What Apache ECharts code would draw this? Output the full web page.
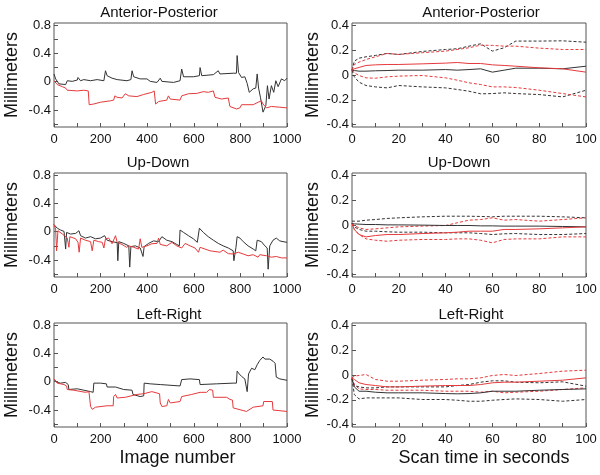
<!DOCTYPE html>
<html><head><meta charset="utf-8">
<script src="https://cdn.jsdelivr.net/npm/echarts@6/dist/echarts.min.js"></script>
<style>html,body{margin:0;padding:0;background:#fff}#c{width:600px;height:475px}</style>
</head><body><div id="c"></div>
<script>
// ---------- data ----------
const panelTitles = ['Anterior-Posterior', 'Up-Down', 'Left-Right'];
const imageTicks = [0,100,200,300,400,500,600,700,800,900,1000];
const imageLabels = [0,200,400,600,800,1000];
const leftMmTicks = [-0.6,-0.4,-0.2,0,0.2,0.4,0.6,0.8];
const leftMmLabels = [-0.4,0,0.4,0.8];
const timeTicks = [0,10,20,30,40,50,60,70,80,90,100];
const timeLabels = [0,20,40,60,80,100];
const rightMmLabels = [-0.4,-0.2,0,0.2,0.4];

// left column: [image number, mm]
const apBlack = [[0,0.11],[7,0.04],[21,-0.03],[50,-0.04],[57,0.014],[78,0.005],[100,0.024],[103,0.06],[114,0.014],[128,0.03],[157,0.014],[185,0.03],[214,0.014],[221,0.155],[228,0.085],[249,0.05],[271,0.03],[313,0.014],[330,0.03],[335,0.155],[342,0.07],[370,0.04],[399,0.04],[413,0.005],[442,-0.01],[456,0.05],[463,0.005],[513,-0.01],[541,0.014],[548,0.18],[556,0.07],[598,0.07],[624,0.085],[627,0.2],[634,0.085],[684,0.1],[705,0.155],[712,0.11],[769,0.12],[783,0.12],[786,0.37],[792,0.13],[805,0.06],[819,0.07],[829,-0.024],[838,-0.15],[855,-0.10],[866,-0.09],[872,0.11],[878,-0.09],[886,-0.22],[897,-0.43],[909,-0.34],[916,-0.056],[923,-0.245],[933,-0.056],[943,-0.15],[952,0.014],[962,-0.07],[976,0.04],[990,0.014],[1000,0.05]];
const apRed = [[0,0.014],[14,-0.04],[36,-0.07],[50,-0.09],[57,-0.12],[100,-0.13],[128,-0.12],[147,-0.13],[151,-0.325],[171,-0.315],[199,-0.29],[242,-0.27],[256,-0.26],[261,-0.2],[271,-0.22],[292,-0.23],[306,-0.17],[321,-0.2],[356,-0.21],[385,-0.18],[420,-0.15],[430,-0.13],[436,-0.315],[449,-0.28],[484,-0.26],[491,-0.2],[499,-0.245],[541,-0.26],[548,-0.2],[577,-0.17],[613,-0.165],[641,-0.14],[662,-0.15],[684,-0.13],[691,-0.22],[719,-0.245],[748,-0.23],[755,-0.35],[783,-0.385],[798,-0.37],[805,-0.325],[855,-0.325],[876,-0.29],[890,-0.27],[897,-0.315],[912,-0.37],[933,-0.35],[969,-0.36],[1000,-0.37]];
const udBlack = [[0,0.10],[14,0.05],[28,0.024],[43,0.005],[50,-0.245],[54,-0.01],[71,-0.033],[93,-0.024],[107,0.014],[114,-0.056],[135,-0.09],[157,-0.07],[178,-0.10],[199,-0.09],[217,-0.056],[228,-0.12],[249,-0.14],[271,-0.155],[274,-0.41],[278,-0.14],[299,-0.165],[321,-0.2],[325,-0.5],[330,-0.21],[349,-0.2],[370,-0.23],[382,-0.35],[387,-0.21],[406,-0.165],[427,-0.13],[449,-0.14],[463,-0.07],[484,-0.12],[506,-0.14],[527,-0.18],[538,-0.2],[541,0.024],[556,-0.01],[577,-0.056],[598,-0.10],[615,-0.15],[624,0.05],[641,-0.01],[662,-0.07],[684,-0.12],[705,-0.165],[726,-0.2],[748,-0.23],[769,-0.27],[772,-0.41],[781,-0.22],[786,-0.07],[798,-0.09],[812,-0.14],[833,-0.2],[855,-0.245],[866,-0.27],[872,-0.12],[890,-0.14],[905,-0.2],[915,-0.23],[919,-0.53],[926,-0.2],[940,-0.12],[954,-0.09],[969,-0.13],[983,-0.14],[1000,-0.15]];
const udRed = [[0,0.10],[7,0.04],[11,-0.27],[17,0.014],[36,-0.033],[43,-0.024],[57,-0.09],[64,-0.22],[68,-0.07],[93,-0.10],[103,-0.15],[108,-0.29],[114,-0.09],[135,-0.12],[157,-0.14],[164,-0.27],[171,-0.12],[192,-0.14],[207,-0.15],[214,-0.23],[221,-0.10],[235,-0.09],[249,-0.17],[264,-0.056],[271,-0.15],[292,-0.18],[311,-0.22],[321,-0.2],[342,-0.22],[363,-0.245],[370,-0.10],[377,-0.22],[399,-0.2],[420,-0.17],[442,-0.165],[449,-0.09],[456,-0.18],[484,-0.2],[506,-0.15],[527,-0.2],[548,-0.23],[563,-0.165],[584,-0.2],[605,-0.23],[620,-0.29],[627,-0.22],[648,-0.245],[670,-0.27],[691,-0.28],[712,-0.29],[726,-0.26],[748,-0.31],[769,-0.315],[791,-0.29],[812,-0.315],[833,-0.34],[855,-0.325],[876,-0.36],[883,-0.325],[912,-0.34],[933,-0.36],[954,-0.35],[976,-0.37],[1000,-0.37]];
const lrBlack = [[0,0.03],[14,-0.01],[28,-0.02],[50,-0.01],[61,-0.04],[64,-0.11],[100,-0.10],[128,-0.12],[157,-0.14],[168,-0.15],[171,-0.02],[199,-0.02],[225,-0.03],[228,-0.075],[264,-0.075],[271,-0.10],[299,-0.11],[306,-0.12],[335,-0.12],[339,-0.18],[370,-0.21],[385,-0.20],[387,-0.02],[413,-0.03],[456,-0.04],[463,-0.06],[541,-0.06],[548,0.03],[584,0.04],[624,0.03],[627,-0.04],[698,-0.03],[769,-0.02],[783,-0.02],[786,0.15],[795,0.11],[805,0.075],[819,0.04],[829,-0.14],[835,0.11],[848,0.19],[862,0.17],[872,0.24],[883,0.30],[897,0.35],[905,0.32],[912,0.33],[926,0.32],[940,0.29],[949,0.26],[954,0.065],[969,0.04],[1000,0.02]];
const lrRed = [[0,0.04],[14,-0.02],[43,-0.04],[54,-0.06],[57,-0.11],[85,-0.12],[135,-0.15],[150,-0.14],[157,-0.35],[164,-0.39],[178,-0.36],[228,-0.34],[254,-0.34],[256,-0.21],[264,-0.18],[271,-0.23],[306,-0.22],[313,-0.21],[356,-0.18],[385,-0.17],[420,-0.14],[442,-0.16],[453,-0.17],[456,-0.30],[463,-0.35],[484,-0.34],[491,-0.25],[499,-0.30],[541,-0.28],[548,-0.21],[591,-0.18],[627,-0.15],[655,-0.15],[667,-0.11],[681,-0.12],[684,-0.22],[741,-0.22],[755,-0.25],[766,-0.26],[769,-0.37],[826,-0.42],[855,-0.36],[897,-0.34],[900,-0.28],[937,-0.28],[940,-0.40],[1000,-0.42]];

// right column: scan time (s) and mm values
const scanTime = [0,1,3,6,10,15,20,30,40,45,50,55,60,65,70,80,90,100];
const apMeanBlack = [0.039,0.036,0.031,0.031,0.034,0.036,0.039,0.039,0.044,0.039,0.044,0.05,0.023,0.039,0.055,0.055,0.05,0.071];
const apUpBlack   = [0.039,0.112,0.136,0.147,0.158,0.174,0.166,0.19,0.206,0.212,0.233,0.252,0.193,0.22,0.274,0.274,0.276,0.265];
const apLoBlack   = [0.039,-0.015,-0.058,-0.085,-0.096,-0.104,-0.085,-0.096,-0.104,-0.117,-0.131,-0.152,-0.15,-0.144,-0.15,-0.158,-0.177,-0.123];
const apMeanRed   = [0.039,0.05,0.061,0.077,0.082,0.085,0.085,0.09,0.096,0.101,0.093,0.093,0.082,0.077,0.071,0.058,0.05,0.023];
const apUpRed     = [0.039,0.085,0.104,0.125,0.147,0.174,0.166,0.18,0.193,0.206,0.22,0.241,0.239,0.233,0.233,0.217,0.206,0.206];
const apLoRed     = [0.039,0.018,-0.004,-0.023,-0.026,-0.015,-0.009,-0.004,-0.023,-0.042,-0.063,-0.077,-0.096,-0.096,-0.101,-0.123,-0.15,-0.177];
const udMeanBlack = [0.012,0.009,0.007,0.004,0.004,0.001,0.001,-0.001,-0.004,-0.004,-0.004,-0.007,-0.007,-0.009,-0.009,-0.009,-0.012,-0.015];
const udUpBlack   = [0.031,0.031,0.031,0.039,0.044,0.053,0.058,0.066,0.071,0.071,0.071,0.069,0.066,0.071,0.071,0.071,0.066,0.058];
const udLoBlack   = [0.012,-0.015,-0.036,-0.05,-0.05,-0.055,-0.058,-0.058,-0.063,-0.063,-0.063,-0.069,-0.077,-0.071,-0.069,-0.077,-0.077,-0.069];
const udMeanRed   = [0.012,-0.036,-0.077,-0.096,-0.085,-0.077,-0.077,-0.069,-0.063,-0.058,-0.05,-0.05,-0.05,-0.036,-0.036,-0.031,-0.023,-0.015];
const udUpRed     = [0.012,-0.004,-0.023,-0.036,-0.031,-0.023,-0.015,-0.009,-0.004,0.018,0.039,0.044,0.058,0.039,0.044,0.031,0.044,0.058];
const udLoRed     = [0.012,-0.036,-0.077,-0.112,-0.123,-0.131,-0.123,-0.117,-0.117,-0.112,-0.112,-0.123,-0.144,-0.117,-0.112,-0.112,-0.096,-0.096];
const lrMeanBlack = [-0.031,-0.096,-0.131,-0.131,-0.139,-0.144,-0.144,-0.144,-0.15,-0.152,-0.15,-0.144,-0.131,-0.131,-0.131,-0.123,-0.117,-0.112];
const lrUpBlack   = [-0.023,-0.085,-0.096,-0.104,-0.104,-0.096,-0.096,-0.096,-0.096,-0.085,-0.077,-0.058,-0.047,-0.047,-0.058,-0.063,-0.055,-0.09];
const lrLoBlack   = [-0.031,-0.158,-0.193,-0.185,-0.185,-0.185,-0.185,-0.198,-0.198,-0.204,-0.212,-0.212,-0.204,-0.198,-0.193,-0.198,-0.212,-0.198];
const lrMeanRed   = [-0.023,-0.036,-0.063,-0.077,-0.085,-0.096,-0.096,-0.09,-0.085,-0.085,-0.085,-0.077,-0.063,-0.058,-0.058,-0.05,-0.042,-0.023];
const lrUpRed     = [-0.023,-0.009,-0.004,0.004,-0.036,-0.05,-0.05,-0.042,-0.036,-0.031,-0.031,-0.023,-0.004,0.004,-0.004,0.012,0.031,0.039];
const lrLoRed     = [-0.023,-0.077,-0.112,-0.117,-0.117,-0.123,-0.123,-0.123,-0.131,-0.131,-0.131,-0.139,-0.131,-0.144,-0.139,-0.131,-0.117,-0.104];

// ---------- chart ----------
const FONT = '"Liberation Sans", Arial, sans-serif';
const BLACK = '#333333', RED = '#e53a3c', FRAME = '#555555';
const rowTop = [23, 173, 323];
const titlePos = [[159,13],[481,13],[158,163],[459,163],[169,315],[471,315]];

const grids = [], xAxes = [], yAxes = [], titles = [], series = [];
for (let r = 0; r < 3; r++) {
  for (let c = 0; c < 2; c++) {
    const gi = r * 2 + c;
    grids.push({left: c ? 352 : 54, top: rowTop[r], width: c ? 234 : 233, height: 104,
      show: true, borderColor: FRAME, borderWidth: 1, backgroundColor: 'transparent'});
    titles.push({text: panelTitles[r], left: titlePos[gi][0], top: titlePos[gi][1],
      textAlign: 'center', textVerticalAlign: 'middle', padding: 0,
      textStyle: {fontFamily: FONT, fontSize: 15, fontWeight: 'normal', color: '#111'}});
    const isBottom = r === 2;
    xAxes.push({type: 'value', gridIndex: gi,
      min: 0, max: c ? 100 : 1000,
      axisLine: {show: false, onZero: false},
      axisTick: {show: true, inside: true, length: 4, lineStyle: {color: FRAME}, customValues: c ? timeTicks : imageTicks},
      axisLabel: {customValues: c ? timeLabels : imageLabels, fontFamily: FONT, fontSize: 13, color: '#111', margin: 6,
        formatter: v => String(v)},
      splitLine: {show: false},
      name: isBottom ? (c ? 'Scan time in seconds' : 'Image number') : '',
      nameLocation: 'middle', nameGap: 22,
      nameTextStyle: {fontFamily: FONT, fontSize: 18, color: '#111', padding: c ? [0,0,0,30] : [0,0,0,14]}
    });
    yAxes.push({type: 'value', gridIndex: gi,
      min: c ? -0.42 : -0.64, max: c ? 0.42 : 0.83,
      axisLine: {show: false, onZero: false},
      axisTick: {show: true, inside: true, length: 4, lineStyle: {color: FRAME}, customValues: c ? rightMmLabels : leftMmTicks},
      axisLabel: {customValues: c ? rightMmLabels : leftMmLabels, fontFamily: FONT, fontSize: 13, color: '#111', margin: 3,
        formatter: v => String(v)},
      splitLine: {show: false},
      name: 'Millimeters', nameLocation: 'middle', nameGap: c ? 30 : 33,
      nameTextStyle: {fontFamily: FONT, fontSize: 18, color: '#111'}
    });
  }
}

function addLine(gi, data, color, dashed) {
  series.push({type: 'line', xAxisIndex: gi, yAxisIndex: gi, data: data,
    showSymbol: false, symbol: 'none', animation: false, silent: true,
    lineStyle: {color: color, width: 1, type: dashed ? [3, 2] : 'solid'}});
}
function pair(vals) { return scanTime.map((t, i) => [t, vals[i]]); }

addLine(0, apBlack, BLACK); addLine(0, apRed, RED);
addLine(2, udBlack, BLACK); addLine(2, udRed, RED);
addLine(4, lrBlack, BLACK); addLine(4, lrRed, RED);

const rightSets = [
  [1, apMeanBlack, apUpBlack, apLoBlack, apMeanRed, apUpRed, apLoRed],
  [3, udMeanBlack, udUpBlack, udLoBlack, udMeanRed, udUpRed, udLoRed],
  [5, lrMeanBlack, lrUpBlack, lrLoBlack, lrMeanRed, lrUpRed, lrLoRed]
];
rightSets.forEach(s => {
  const gi = s[0];
  addLine(gi, pair(s[2]), BLACK, true);
  addLine(gi, pair(s[3]), BLACK, true);
  addLine(gi, pair(s[5]), RED, true);
  addLine(gi, pair(s[6]), RED, true);
  addLine(gi, pair(s[1]), BLACK);
  addLine(gi, pair(s[4]), RED);
});

const chart = echarts.init(document.getElementById('c'), null, {renderer: 'canvas'});
chart.setOption({animation: false, backgroundColor: '#fff',
  title: titles, grid: grids, xAxis: xAxes, yAxis: yAxes, series: series});
</script></body></html>
